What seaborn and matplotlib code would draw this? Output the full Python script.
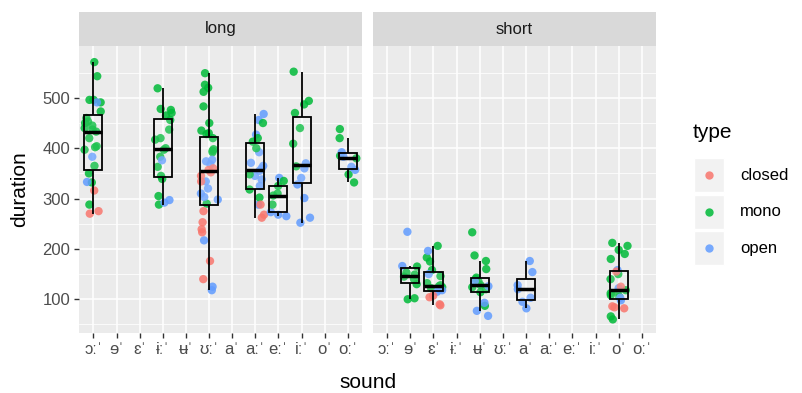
import numpy as np
import pandas as pd
import seaborn as sns
import matplotlib
matplotlib.use("Agg")
import matplotlib.pyplot as plt
from matplotlib.patches import Rectangle

# ---------------- data ----------------
sounds = ["ɔː", "ɘ", "ɛ", "ɨː", "ʉ", "ʊː", "a", "aː", "eː", "iː", "o", "oː"]
tick_labels = ["ɔːˈ", "ɘˈ", "ɛˈ", "ɨːˈ", "ʉˈ", "ʊːˈ", "aˈ", "aːˈ", "eːˈ", "iːˈ", "oˈ", "oːˈ"]
panels = ["long", "short"]
types = ["closed", "mono", "open"]
type_colors = ["#F8766D", "#00BA38", "#619CFF"]
y_ticks = [100, 200, 300, 400, 500]

long_oo = {"mono": [571, 543, 496, 496, 491, 473, 460, 453, 450, 445, 440, 437, 433, 420,
                    404, 402, 397, 365, 350, 332, 288],
           "open": [491, 383, 333],
           "closed": [316, 275, 270]}
long_ibar = {"mono": [519, 478, 476, 470, 465, 456, 437, 420, 417, 400, 397, 383, 363, 345,
                      339, 305, 288],
             "open": [376, 297, 292]}
long_ups = {"mono": [549, 526, 520, 512, 483, 450, 435, 430, 428, 420, 398, 395, 392, 290],
            "open": [377, 374, 368, 334, 320, 310, 303, 298, 217, 125, 118],
            "closed": [360, 357, 352, 345, 334, 275, 253, 239, 233, 176, 140]}
long_aa = {"open": [468, 456, 427, 392, 371, 365, 360, 355, 345, 338, 325, 288],
           "mono": [450, 420, 413, 400, 348, 318, 302],
           "closed": [288, 268, 262]}
long_ee = {"open": [341, 273, 268, 265],
           "mono": [335, 325, 310, 306, 288]}
long_ii = {"mono": [552, 494, 487, 470, 440, 409, 364],
           "open": [370, 360, 341, 328, 301, 262, 252]}
long_oo2 = {"mono": [438, 420, 385, 380, 348, 332],
            "open": [392, 383, 363, 357]}
short_schwa = {"open": [234, 166],
               "mono": [165, 153, 149, 145, 140, 130, 102, 100]}
short_eps = {"mono": [206, 183, 175, 158, 146, 132, 128, 126, 124, 122],
             "open": [196, 150, 120, 118, 115],
             "closed": [107, 104, 90, 88]}
short_ubar = {"mono": [233, 187, 176, 160, 143, 140, 135, 128, 124, 120, 114, 87],
              "open": [136, 126, 93, 77, 67]}
short_a = {"open": [176, 154, 128, 120, 103, 95, 82]}
short_o = {"mono": [212, 206, 198, 190, 180, 150, 140, 118, 114, 112, 108, 105, 66, 60],
           "open": [158, 122, 103, 98],
           "closed": [155, 125, 86, 84, 82]}

groups = [("long", "ɔː", long_oo), ("long", "ɨː", long_ibar), ("long", "ʊː", long_ups),
          ("long", "aː", long_aa), ("long", "eː", long_ee), ("long", "iː", long_ii),
          ("long", "oː", long_oo2),
          ("short", "ɘ", short_schwa), ("short", "ɛ", short_eps), ("short", "ʉ", short_ubar),
          ("short", "a", short_a), ("short", "o", short_o)]

rows = []
for length, sound, d in groups:
    for t, vals in d.items():
        for v in vals:
            rows.append((length, sound, t, v))
df = pd.DataFrame(rows, columns=["length", "sound", "type", "duration"])

# ---------------- style ----------------
plt.rcParams["font.family"] = ["Liberation Sans", "DejaVu Sans"]
palette = dict(zip(types, type_colors))

W, H = 803, 393
fig = plt.figure(figsize=(W / 100, H / 100), dpi=100)

def fx(px):
    return px / W

def fy(py):
    return 1 - py / H

panel_top, panel_bot = 46, 333
strip_top = 12
panel_x = [(79.5, 361.7), (373.3, 655.7)]
pt_size = 6.0

np.random.seed(3)
axes = []
for i, (name, (x0, x1)) in enumerate(zip(panels, panel_x)):
    ax = fig.add_axes([fx(x0), fy(panel_bot), fx(x1 - x0), (panel_bot - panel_top) / H])
    axes.append(ax)
    sub = df[df["length"] == name]
    ax.set_facecolor("#EBEBEB")
    sns.stripplot(data=sub, x="sound", y="duration", hue="type", order=sounds,
                  hue_order=types, palette=palette, jitter=0.4, size=pt_size,
                  linewidth=0, alpha=0.85, legend=False, ax=ax, zorder=2)
    sns.boxplot(data=sub, x="sound", y="duration", order=sounds, width=0.78,
                showfliers=False, showcaps=False, fill=True, linecolor="black",
                linewidth=1.3, ax=ax,
                boxprops=dict(facecolor=(1, 1, 1, 0.12), edgecolor="black", zorder=3),
                whiskerprops=dict(color="black", zorder=3),
                medianprops=dict(color="black", linewidth=2.5, zorder=4))
    ax.set_xlim(-0.6, len(sounds) - 0.4)
    ax.set_ylim(33, 603)
    ax.set_yticks(y_ticks)
    ax.set_yticks([50, 150, 250, 350, 450, 550], minor=True)
    ax.set_xticks(range(len(sounds)))
    ax.set_xticklabels(tick_labels)
    ax.grid(which="major", color="white", linewidth=1.1, zorder=0)
    ax.grid(which="minor", axis="y", color="white", linewidth=0.55, zorder=0)
    ax.set_axisbelow(True)
    for s in ax.spines.values():
        s.set_visible(False)
    ax.tick_params(axis="both", which="major", length=3.5, width=1.0, color="#333333",
                   labelcolor="#4D4D4D", labelsize=12, pad=3)
    ax.tick_params(axis="y", which="minor", length=0)
    ax.set_xlabel("")
    ax.set_ylabel("")
    if i == 1:
        ax.tick_params(axis="y", which="both", left=False, labelleft=False)
    # strip
    sax = fig.add_axes([fx(x0), fy(panel_top), fx(x1 - x0), (panel_top - strip_top) / H])
    sax.set_facecolor("#D9D9D9")
    sax.set_xticks([]); sax.set_yticks([])
    for s in sax.spines.values():
        s.set_visible(False)
    sax.text(0.5, 0.5, name, ha="center", va="center", fontsize=12, color="#1A1A1A",
             transform=sax.transAxes)

fig.text(fx(20), fy((panel_top + panel_bot) / 2), "duration", rotation=90, ha="center",
         va="center", fontsize=15, color="black")
fig.text(fx((79.5 + 655.7) / 2), fy(382), "sound", ha="center", va="center",
         fontsize=15, color="black")

# legend
lax = fig.add_axes([0, 0, 1, 1], facecolor="none")
lax.set_xlim(0, W); lax.set_ylim(H, 0)
lax.axis("off")
lax.text(693, 133, "type", ha="left", va="center", fontsize=15, color="black")
for k, t in enumerate(types):
    cy = 175 + k * 36.5
    lax.add_patch(Rectangle((694, cy - 17), 30, 34, facecolor="#F2F2F2",
                            edgecolor="white", linewidth=1))
    lax.scatter([709], [cy], s=pt_size ** 2, color=palette[t], linewidth=0, alpha=0.85)
    lax.text(740, cy, t, ha="left", va="center", fontsize=12, color="black")

fig.savefig("out.png", dpi=100)
